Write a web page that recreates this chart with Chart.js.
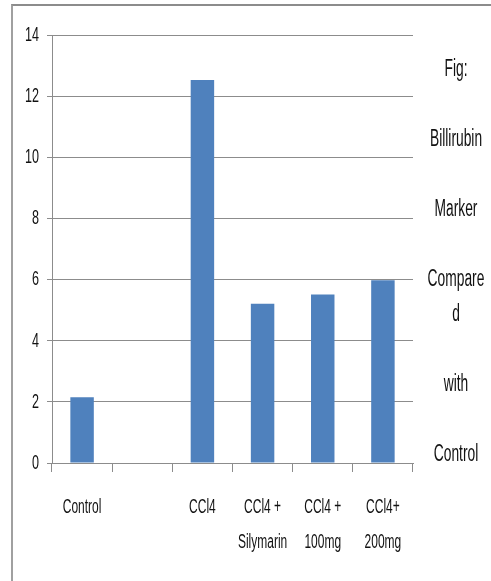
<!DOCTYPE html>
<html>
<head>
<meta charset="utf-8">
<script src="https://cdn.jsdelivr.net/npm/chart.js@4/dist/chart.umd.min.js"></script>
<style>
  html, body { margin: 0; padding: 0; background: #ffffff; }
  #wrap { position: relative; width: 491px; height: 581px; overflow: hidden; }
  #frame {
    position: absolute; left: 11px; top: 4px; width: 600px; height: 700px;
    border-top: 2px solid #8c8c8c; border-left: 2px solid #a0a0a0;
    box-sizing: border-box; pointer-events: none;
  }
  canvas { position: absolute; left: 0; top: 0; }
</style>
</head>
<body>
<div id="wrap">
  <canvas id="chart" width="491" height="581"></canvas>
  <div id="frame"></div>
</div>
<script>
// Groups on the category axis (multi-line labels are arrays)
const categories = [
  'Control',
  '',
  'CCl4',
  ['CCl4 +', 'Silymarin'],
  ['CCl4 +', '100mg'],
  ['CCl4+', '200mg']
];

// Billirubin values per group
const billirubin = [2.15, null, 12.53, 5.21, 5.51, 5.98];

// Y-axis tick values
const yTicks = [0, 2, 4, 6, 8, 10, 12, 14];

// Series caption shown at the right, one word per line
const captionLines = ['Fig:', '', 'Billirubin', '', 'Marker', '', 'Compare', 'd', '', 'with', '', 'Control'];

const FONT = "'Liberation Sans', Arial, sans-serif";
const SQUEEZE = 0.6;   // horizontal condensing of all chart text

// Draws a condensed text run anchored at (x, y)
function condensedText(ctx, text, x, y, size, align) {
  ctx.save();
  ctx.translate(x, y);
  ctx.scale(SQUEEZE, 1);
  ctx.font = size + 'px ' + FONT;
  ctx.fillStyle = '#111111';
  ctx.textAlign = align;
  ctx.textBaseline = 'middle';
  ctx.fillText(text, 0, 0);
  ctx.restore();
}

const textPlugin = {
  id: 'condensedLabels',
  afterDraw(chart) {
    const { ctx, chartArea, scales } = chart;

    // y tick labels
    scales.y.ticks.forEach(t => {
      condensedText(ctx, String(t.value), chartArea.left - 13, scales.y.getPixelForValue(t.value), 21, 'right');
    });

    // x category labels
    chart.data.labels.forEach((lbl, i) => {
      const lines = Array.isArray(lbl) ? lbl : [lbl];
      const x = scales.x.getPixelForTick(i);
      lines.forEach((line, j) => {
        if (line) condensedText(ctx, line, x, chartArea.bottom + 44 + j * 35, 20, 'center');
      });
    });

    // caption at the right side
    const cx = (chartArea.right + chart.width) / 2 + 4;
    captionLines.forEach((line, i) => {
      if (line) condensedText(ctx, line, cx, chartArea.top + 35 * (i + 1), 23, 'center');
    });
  }
};

new Chart(document.getElementById('chart'), {
  type: 'bar',
  data: {
    labels: categories,
    datasets: [{
      label: 'Billirubin',
      data: billirubin,
      backgroundColor: '#4f81bd',
      borderWidth: 0,
      categoryPercentage: 1,
      barPercentage: 0.39
    }]
  },
  options: {
    responsive: false,
    animation: false,
    devicePixelRatio: 1,
    layout: { padding: { top: 35, right: 78, left: 0, bottom: 0 } },
    plugins: {
      legend: { display: false },
      tooltip: { enabled: false }
    },
    scales: {
      x: {
        afterFit(scale) { scale.height = 118; },
        border: { display: true, color: '#8c8c8c', width: 1 },
        grid: {
          offset: true,
          drawOnChartArea: false,
          drawTicks: true,
          tickLength: 9,
          color: '#8c8c8c'
        },
        ticks: { display: false, autoSkip: false }
      },
      y: {
        min: 0,
        max: 14,
        afterFit(scale) { scale.width = 52; },
        afterBuildTicks(scale) { scale.ticks = yTicks.map(v => ({ value: v })); },
        border: { display: true, color: '#8c8c8c', width: 1 },
        grid: {
          color: '#8c8c8c',
          lineWidth: 1,
          drawTicks: true,
          tickLength: 5
        },
        ticks: { display: false }
      }
    }
  },
  plugins: [textPlugin]
});
</script>
</body>
</html>
